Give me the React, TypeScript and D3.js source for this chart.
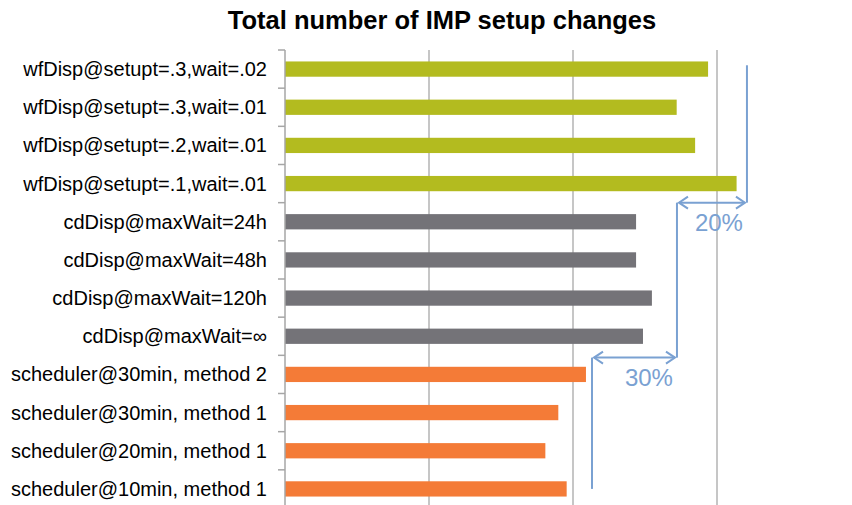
import React from 'react';
import * as d3 from 'd3';

// rows top to bottom
const categories = [
  'wfDisp@setupt=.3,wait=.02',
  'wfDisp@setupt=.3,wait=.01',
  'wfDisp@setupt=.2,wait=.01',
  'wfDisp@setupt=.1,wait=.01',
  'cdDisp@maxWait=24h',
  'cdDisp@maxWait=48h',
  'cdDisp@maxWait=120h',
  'cdDisp@maxWait=∞',
  'scheduler@30min, method 2',
  'scheduler@30min, method 1',
  'scheduler@20min, method 1',
  'scheduler@10min, method 1',
];
const setupChanges = [1469, 1360, 1424, 1568, 1219, 1219, 1274, 1243, 1045, 949, 904, 978];
const groups = ['wf', 'wf', 'wf', 'wf', 'cd', 'cd', 'cd', 'cd', 'sch', 'sch', 'sch', 'sch'];
const groupColors: Record<string, string> = { wf: '#b3bb1f', cd: '#747378', sch: '#f47b37' };
const gridValues = [500, 1000, 1500];

// bracket annotations (x in data units, y in row units)
const bracketVerticals = [
  { x: 1604, y0: 0.4, y1: 4 },
  { x: 1361, y0: 4, y1: 8.06 },
  { x: 1066, y0: 8.06, y1: 11.5 },
];
const bracketArrows = [
  { label: '20%', left: 1361, right: 1604, row: 4 },
  { label: '30%', left: 1066, right: 1361, row: 8.06 },
];

const W = 852;
const H = 505;
const top = 50;
const bottom = 508;

export default function App() {
  const x = d3.scaleLinear().domain([0, 2000]).range([285, 861]);
  const y = d3.scaleBand<string>().domain(categories).range([top, bottom]).paddingInner(0.6).paddingOuter(0.3);
  const step = y.step();
  const rowY = (r: number) => top + r * step;
  const blue = '#7aa1d2';

  return (
    <svg width={W} height={H} style={{ position: 'absolute', left: 0, top: 0, fontFamily: 'Arial, "Liberation Sans", sans-serif' }}>
      <text x={442} y={29} textAnchor="middle" fontSize={25.5} fontWeight="bold" fill="#000">
        Total number of IMP setup changes
      </text>
      {gridValues.map((v) => (
        <line key={v} x1={x(v)} x2={x(v)} y1={top} y2={bottom} stroke="#b3b3b3" strokeWidth={1.5} />
      ))}
      {categories.map((c, i) => (
        <rect
          key={c}
          x={x(0)}
          y={y(c)}
          width={x(setupChanges[i]) - x(0)}
          height={y.bandwidth()}
          fill={groupColors[groups[i]]}
        />
      ))}
      <line x1={x(0)} x2={x(0)} y1={top} y2={bottom} stroke="#a6a6a6" strokeWidth={1.5} />
      {d3.range(categories.length + 1).map((i) => (
        <line key={i} x1={x(0) - 7} x2={x(0)} y1={rowY(i)} y2={rowY(i)} stroke="#a6a6a6" strokeWidth={1.5} />
      ))}
      {categories.map((c) => (
        <text key={c} x={267} y={(y(c) ?? 0) + y.bandwidth() / 2} dy="0.35em" textAnchor="end" fontSize={20} fill="#000">
          {c}
        </text>
      ))}
      {bracketVerticals.map((b, i) => (
        <line key={i} x1={x(b.x)} x2={x(b.x)} y1={rowY(b.y0)} y2={rowY(b.y1)} stroke={blue} strokeWidth={2} />
      ))}
      {bracketArrows.map((a) => {
        const x0 = x(a.left) + 2;
        const x1 = x(a.right) - 2;
        const yy = rowY(a.row);
        return (
          <g key={a.label} stroke={blue} strokeWidth={2} fill="none">
            <line x1={x0} x2={x1} y1={yy} y2={yy} />
            <polyline points={`${x0 + 9},${yy - 6} ${x0},${yy} ${x0 + 9},${yy + 6}`} />
            <polyline points={`${x1 - 9},${yy - 6} ${x1},${yy} ${x1 - 9},${yy + 6}`} />
            <text x={x(a.right) - 4} y={yy + 28} textAnchor="end" fontSize={24} fill={blue} stroke="none">
              {a.label}
            </text>
          </g>
        );
      })}
    </svg>
  );
}
